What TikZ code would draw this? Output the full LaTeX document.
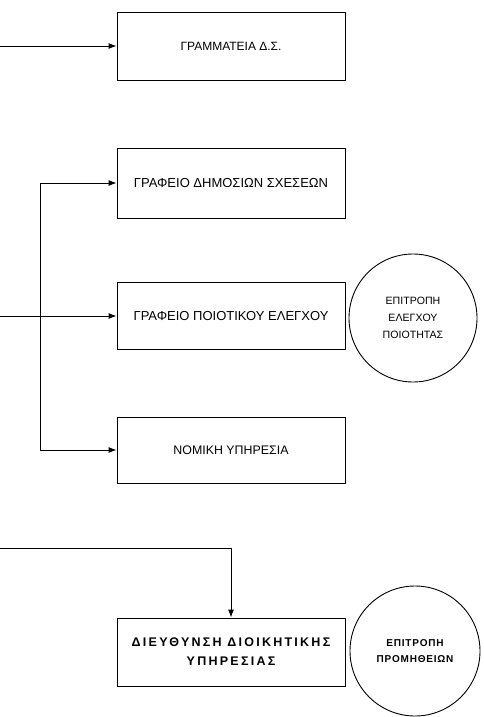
\documentclass[tikz,border=0pt]{standalone}
\usepackage{fontspec}
\setmainfont{Liberation Sans}
\usetikzlibrary{arrows.meta,calc,positioning}

\begin{document}
\begin{tikzpicture}[x=1pt,y=-1pt,>={Latex[length=8pt,width=6pt]},line width=0.9pt,
  box/.style={draw, minimum width=228pt, minimum height=68pt, inner sep=0pt, align=center},
  comm/.style={draw, circle, minimum size=130pt, inner sep=0pt, align=center}]
\useasboundingbox (0,0) rectangle (484,717);
% boxes
\node[box, font=\fontsize{12}{14}\selectfont] (gram) at (231,46) {ΓΡΑΜΜΑΤΕΙΑ Δ.Σ.};
\node[box, minimum height=70pt, font=\fontsize{13}{15}\selectfont] (dimos) at (231,183) {ΓΡΑΦΕΙΟ ΔΗΜΟΣΙΩΝ ΣΧΕΣΕΩΝ};
\node[box, minimum height=67pt, font=\fontsize{13}{15}\selectfont] (poiot) at (231,316) {ΓΡΑΦΕΙΟ ΠΟΙΟΤΙΚΟΥ ΕΛΕΓΧΟΥ};
\node[box, minimum height=66pt, font=\fontsize{12.4}{14}\selectfont] (nomiki) at (231,450) {ΝΟΜΙΚΗ ΥΠΗΡΕΣΙΑ};
\node[box, font=\fontsize{12.5}{19}\selectfont\bfseries\addfontfeature{LetterSpace=18}] (dioik) at (231,652) {ΔΙΕΥΘΥΝΣΗ ΔΙΟΙΚΗΤΙΚΗΣ\\ΥΠΗΡΕΣΙΑΣ};
% committees
\node[comm, minimum size=128pt, font=\fontsize{10.6}{17}\selectfont] (epoi) at (413,318) {ΕΠΙΤΡΟΠΗ\\ΕΛΕΓΧΟΥ\\ΠΟΙΟΤΗΤΑΣ};
\node[comm, font=\fontsize{10}{16}\selectfont\bfseries\addfontfeature{LetterSpace=8}] (epro) at (415,651) {ΕΠΙΤΡΟΠΗ\\ΠΡΟΜΗΘΕΙΩΝ};
% connectors
\coordinate (in1) at (0,46);
\coordinate (in2) at (0,316);
\coordinate (in3) at (0,548);
\coordinate (br) at (40,183);
\draw[->] (in1) -- (gram);
\draw[->] (in2) -- (poiot);
\draw[->] (br) -- (dimos);
\draw[->] (br) |- (nomiki);
\draw[->] (in3) -| (dioik);
\end{tikzpicture}
\end{document}
